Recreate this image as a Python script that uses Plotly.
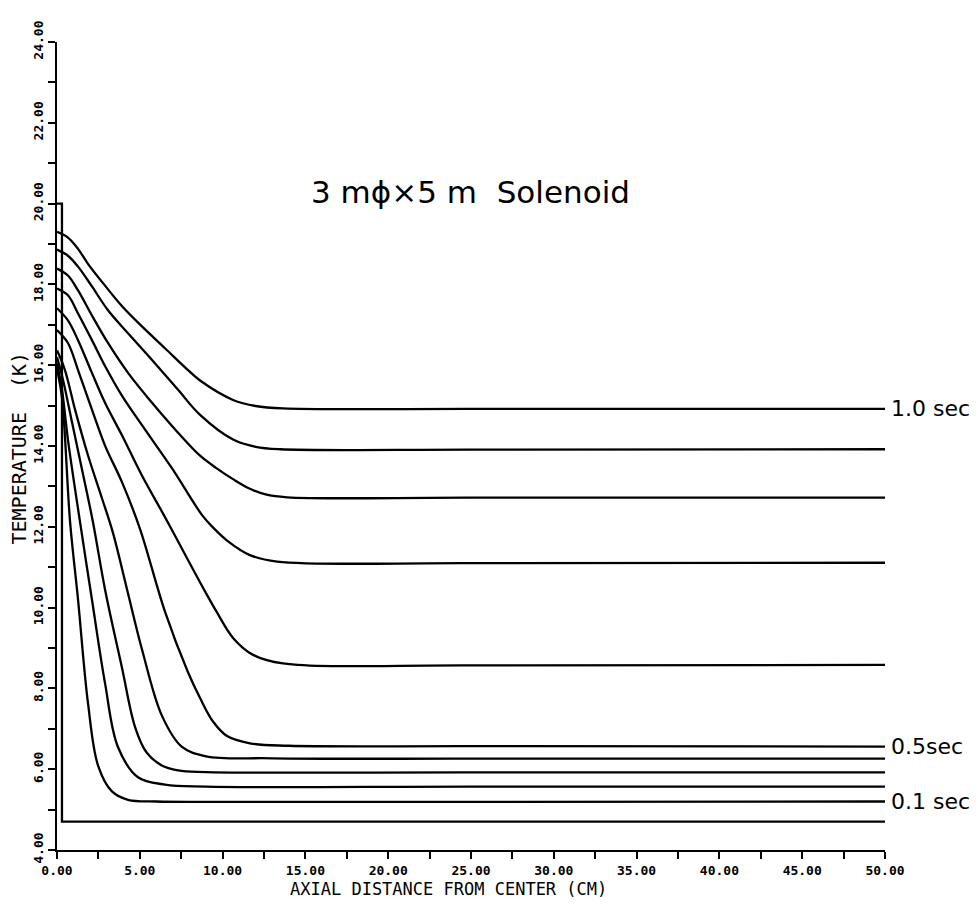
import plotly.graph_objects as go

# ---- data (x: axial distance in cm, T: temperature in K) ----
x_t00 = [0.0, 0.3, 0.3, 50.0]
T_t00 = [20.0, 20.0, 4.7, 4.7]

x_t01 = [0.0, 0.30, 0.79, 1.27, 1.87, 2.48, 3.32, 4.29, 6.0, 9.0, 25.0, 50.0]
T_t01 = [15.9, 15.2, 12.12, 10.2, 7.64, 6.09, 5.45, 5.24, 5.20, 5.19, 5.19, 5.20]

x_t02 = [0.0, 0.30, 0.66, 1.39, 2.11, 2.90, 3.68, 4.89, 6.52, 9.0, 25.0, 50.0]
T_t02 = [16.05, 15.4, 14.16, 12.12, 10.2, 8.13, 6.55, 5.80, 5.62, 5.57, 5.57, 5.57]

x_t03 = [0.0, 0.36, 0.91, 1.51, 2.17, 2.90, 3.93, 4.71, 5.40, 6.30, 7.31, 9.0, 25.0, 50.0]
T_t03 = [16.2, 15.64, 14.58, 13.42, 12.12, 10.45, 8.50, 7.05, 6.42, 6.10, 5.97, 5.93, 5.92, 5.92]

x_t04 = [0.0, 0.48, 1.09, 1.87, 2.72, 3.38, 4.23, 5.13, 6.34, 7.55, 9.0, 13.0, 25.0, 50.0]
T_t04 = [16.37, 15.88, 14.90, 13.77, 12.70, 11.85, 10.45, 8.97, 7.32, 6.55, 6.32, 6.27, 6.26, 6.26]

x_t05 = [0.0, 0.66, 1.27, 2.11, 2.90, 3.93, 5.01, 6.52, 7.91, 8.64, 9.42, 10.27, 11.65, 14.0, 25.0, 50.0]
T_t05 = [16.87, 16.55, 15.88, 14.90, 14.01, 13.10, 11.95, 9.90, 8.40, 7.76, 7.18, 6.82, 6.64, 6.58, 6.57, 6.56]

x_t06 = [0.0, 0.66, 1.27, 2.11, 2.90, 3.93, 5.13, 6.52, 7.91, 8.94, 9.66, 10.63, 11.84, 13.65, 25.0, 50.0]
T_t06 = [17.41, 17.11, 16.62, 15.81, 15.07, 14.26, 13.27, 12.24, 11.18, 10.40, 9.88, 9.25, 8.83, 8.62, 8.57, 8.58]

x_t07 = [0.0, 0.66, 1.27, 2.11, 2.90, 3.93, 5.31, 6.94, 8.76, 9.50, 10.27, 11.65, 13.29, 25.0, 50.0]
T_t07 = [17.90, 17.73, 17.28, 16.62, 15.98, 15.24, 14.41, 13.45, 12.29, 11.95, 11.66, 11.30, 11.14, 11.10, 11.11]

x_t08 = [0.0, 0.66, 1.27, 2.11, 3.08, 4.29, 5.74, 7.31, 8.64, 9.60, 10.63, 11.65, 12.60, 13.90, 25.0, 50.0]
T_t08 = [18.39, 18.22, 17.85, 17.23, 16.55, 15.81, 15.07, 14.33, 13.76, 13.46, 13.18, 12.94, 12.80, 12.73, 12.72, 12.72]

x_t09 = [0.0, 0.66, 1.27, 2.11, 3.08, 4.29, 5.74, 7.31, 8.64, 10.63, 12.0, 13.47, 25.0, 50.0]
T_t09 = [18.86, 18.71, 18.44, 17.95, 17.36, 16.79, 16.13, 15.39, 14.77, 14.16, 13.98, 13.92, 13.91, 13.92]

x_t10 = [0.0, 0.66, 1.27, 1.87, 2.90, 3.93, 5.13, 6.52, 7.91, 8.64, 10.63, 12.0, 13.65, 25.0, 50.0]
T_t10 = [19.30, 19.16, 18.88, 18.51, 17.97, 17.46, 16.96, 16.42, 15.88, 15.62, 15.14, 14.99, 14.93, 14.92, 14.92]

curve_x = [x_t00, x_t01, x_t02, x_t03, x_t04, x_t05, x_t06, x_t07, x_t08, x_t09, x_t10]
curve_T = [T_t00, T_t01, T_t02, T_t03, T_t04, T_t05, T_t06, T_t07, T_t08, T_t09, T_t10]
curve_names = ["0.0 sec", "0.1 sec", "0.2 sec", "0.3 sec", "0.4 sec", "0.5 sec",
               "0.6 sec", "0.7 sec", "0.8 sec", "0.9 sec", "1.0 sec"]

# curves that carry an end label: index -> text
end_labels = {10: "1.0 sec", 5: "0.5sec", 1: "0.1 sec"}

x_ticks = [0, 5, 10, 15, 20, 25, 30, 35, 40, 45, 50]
x_ticktext = ["0.00", "5.00", "10.00", "15.00", "20.00", "25.00", "30.00",
              "35.00", "40.00", "45.00", "50.00"]
y_ticks = [4, 6, 8, 10, 12, 14, 16, 18, 20, 22, 24]
y_ticktext = ["4.00", "6.00", "8.00", "10.00", "12.00", "14.00", "16.00",
              "18.00", "20.00", "22.00", "24.00"]

title_text = "3 m\u03d5\u00d75 m  Solenoid"
x_title = "AXIAL DISTANCE FROM CENTER (CM)"
y_title = "TEMPERATURE  (K)"

fig = go.Figure()
for i, (xs, ts) in enumerate(zip(curve_x, curve_T)):
    if i == 0:
        line = dict(color="black", width=2.3, shape="linear")
    else:
        line = dict(color="black", width=2.3, shape="spline", smoothing=1.0)
    fig.add_trace(go.Scatter(x=xs, y=ts, mode="lines", name=curve_names[i],
                             line=line, showlegend=False, hoverinfo="x+y+name"))

mono = "DejaVu Sans Mono"
label_font = dict(family="DejaVu Sans", size=22, color="black")

annotations = []
for i, txt in end_labels.items():
    annotations.append(dict(x=curve_x[i][-1], y=curve_T[i][-1], xref="x", yref="y",
                            text=txt, showarrow=False, xanchor="left",
                            yanchor="middle", xshift=4, font=label_font))
annotations.append(dict(x=0.499, y=0.814, xref="paper", yref="paper", text=title_text,
                        showarrow=False, xanchor="center", yanchor="middle",
                        font=dict(family="DejaVu Sans", size=31, color="black")))
annotations.append(dict(x=0.473, y=-0.048, xref="paper", yref="paper", text=x_title,
                        showarrow=False, xanchor="center", yanchor="middle",
                        font=dict(family=mono, size=17, color="black")))
annotations.append(dict(x=-0.046, y=0.498, xref="paper", yref="paper", text=y_title,
                        showarrow=False, xanchor="center", yanchor="middle",
                        textangle=-90,
                        font=dict(family=mono, size=20, color="black")))

fig.update_layout(
    width=979, height=904,
    # the page body adds an 8 px offset; margins compensate so the plot area
    # lands at x 57..885, y 37..850 in the window
    margin=dict(l=49, r=102, t=29, b=62),
    paper_bgcolor="white", plot_bgcolor="white",
    annotations=annotations,
    xaxis=dict(range=[0, 50], tickmode="array", tickvals=x_ticks, ticktext=x_ticktext,
               showgrid=False, zeroline=False, showline=True, linecolor="black",
               linewidth=2, ticks="outside", ticklen=7, tickwidth=2, tickcolor="black",
               tickfont=dict(family=mono, size=13, color="black", weight="bold"),
               minor=dict(tickmode="array", tickvals=[2.5 + 5 * k for k in range(10)],
                          ticks="outside", ticklen=7, tickwidth=2, tickcolor="black")),
    yaxis=dict(range=[4, 24], tickmode="array", tickvals=y_ticks, ticktext=y_ticktext,
               showgrid=False, zeroline=False, showline=True, linecolor="black",
               linewidth=2, ticks="outside", ticklen=7, tickwidth=2, tickcolor="black",
               tickangle=-90,
               tickfont=dict(family=mono, size=13, color="black", weight="bold"),
               minor=dict(tickmode="array", tickvals=[5 + 2 * k for k in range(10)],
                          ticks="outside", ticklen=7, tickwidth=2, tickcolor="black")),
)

fig.write_html("out.html")
